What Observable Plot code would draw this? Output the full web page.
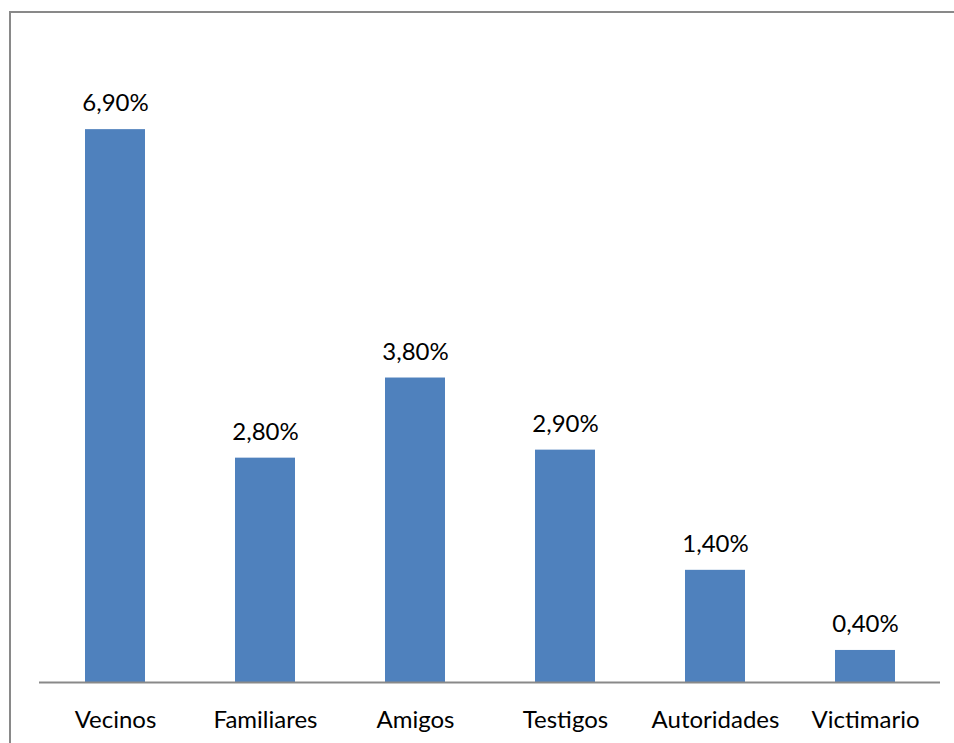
<!DOCTYPE html>
<html>
<head>
<meta charset="utf-8">
<script src="https://cdn.jsdelivr.net/npm/d3@7"></script>
<script src="https://cdn.jsdelivr.net/npm/@observablehq/plot@0.6"></script>
<style>
  html, body { margin: 0; padding: 0; background: #fff; }
  #chart { width: 954px; height: 743px; overflow: hidden; }
</style>
</head>
<body>
<div id="chart"></div>
<script>
const categories = ["Vecinos", "Familiares", "Amigos", "Testigos", "Autoridades", "Victimario"];
const values = [6.9, 2.8, 3.8, 2.9, 1.4, 0.4];

const data = categories.map((c, i) => ({category: c, value: values[i]}));
const fmt = v => v.toFixed(2).replace(".", ",") + "%";
const FONT = "Lato, 'Open Sans', sans-serif";

const chart = Plot.plot({
  width: 954,
  height: 743,
  marginLeft: 39,
  marginRight: 14,
  marginTop: 41,
  marginBottom: 61,
  style: {fontFamily: FONT, fontSize: "24px", color: "#000", background: "#fff"},
  x: {domain: categories, paddingInner: 0.6, paddingOuter: 0.3, label: null},
  y: {domain: [0, 8], axis: null},
  marks: [
    Plot.barY(data, {x: "category", y: "value", fill: "#4F81BD"}),
    Plot.ruleY([0], {stroke: "#898989", strokeWidth: 2}),
    Plot.text(data, {x: "category", y: "value", text: d => fmt(d.value), dy: -26, fill: "#000", fontSize: 24}),
    Plot.axisX({tickSize: 0, tickPadding: 28, fontSize: 24, fill: "#000"})
  ]
});

document.getElementById("chart").appendChild(chart);
// outer chart-area border
d3.select(chart).append("rect")
  .attr("x", 10).attr("y", 12)
  .attr("width", 1000).attr("height", 1000)
  .attr("fill", "none").attr("stroke", "#898989").attr("stroke-width", 2);
</script>
</body>
</html>
